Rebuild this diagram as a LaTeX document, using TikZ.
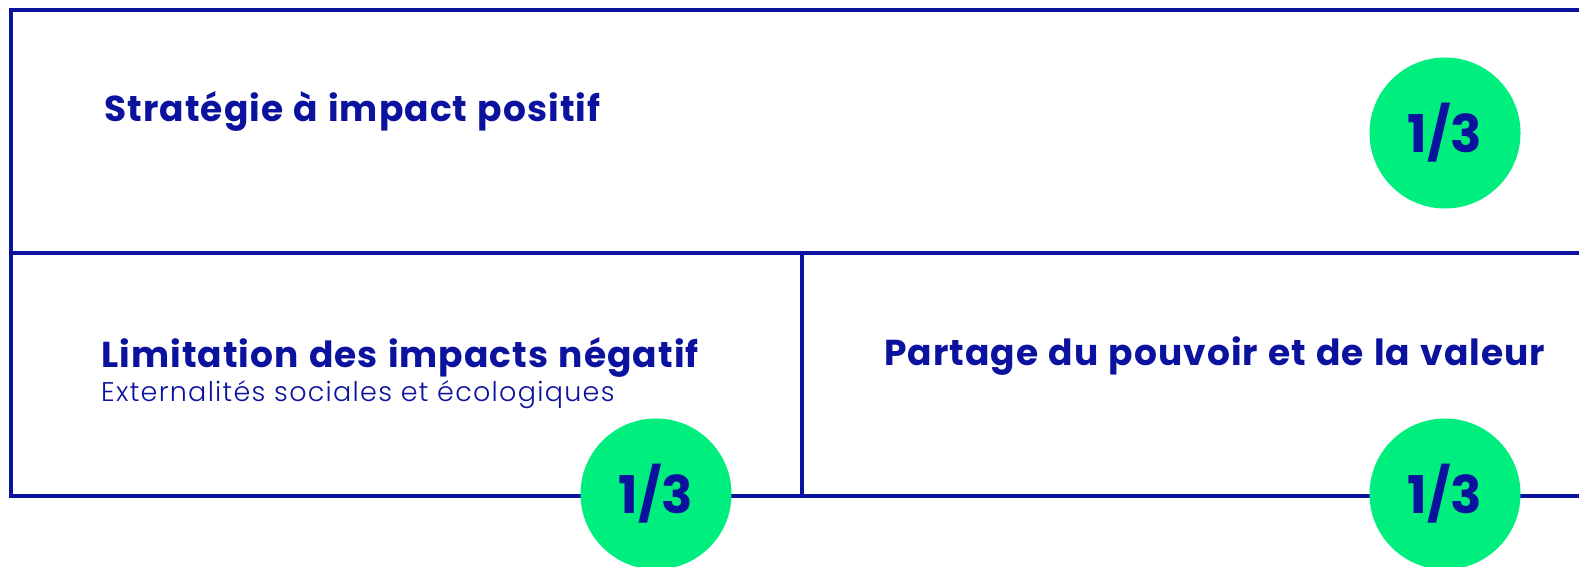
\documentclass[tikz,border=0pt]{standalone}
\usepackage{fontspec}
\setmainfont{Poppins}[UprightFont=* Regular, BoldFont=* Bold]
\newfontfamily\titlefont{Poppins Bold}[LetterSpace=3.0, WordSpace=1.16]
\newfontfamily\subfont{Poppins Light}[LetterSpace=4.8]
\definecolor{navy}{HTML}{0B129E}
\definecolor{mint}{HTML}{00EE7D}
\tikzset{
  frame/.style={draw=navy, line width=3.4pt},
  title/.style={anchor=base west, inner sep=0pt, text=navy, font=\titlefont\fontsize{36}{40}\selectfont},
  subtitle/.style={anchor=base west, inner sep=0pt, text=navy, font=\subfont\fontsize{27}{30}\selectfont},
  share/.style={circle, fill=mint, minimum size=151pt, inner sep=0pt, text=navy, font=\bfseries\fontsize{52}{56}\selectfont},
}
\begin{document}
\begin{tikzpicture}[x=1pt, y=-1pt]
\useasboundingbox (0,0) rectangle (1579,567);
\begin{scope}
\clip (0,0) rectangle (1579,567);
% frame of the three blocks
\coordinate (tl) at (11,10);
\coordinate (tr) at (1600,10);
\coordinate (ml) at (11,253);
\coordinate (mr) at (1600,253);
\coordinate (bl) at (11,496);
\coordinate (br) at (1600,496);
\coordinate (dt) at (802,253);
\coordinate (db) at (802,496);
\draw[frame] (tr) -- (tl) -- (bl) -- (br);
\draw[frame] (ml) -- (mr);
\draw[frame] (dt) -- (db);
% weight badges
\node[share] (c1) at (1445,133) {\raisebox{3pt}{1/3}};
\node[share] (c2) at (656,494) {\raisebox{3pt}{1/3}};
\node[share] (c3) at (1445,494) {\raisebox{3pt}{1/3}};
\end{scope}
% block titles
\node[title] (t1) at (104,122) {Stratégie à impact positif};
\node[title] (t2) at (101,367) {Limitation des impacts négatif};
\node[subtitle] (s2) at (101,401) {Externalités sociales et écologiques};
\node[title] (t3) at (884,365) {Partage du pouvoir et de la valeur};
\end{tikzpicture}
\end{document}
